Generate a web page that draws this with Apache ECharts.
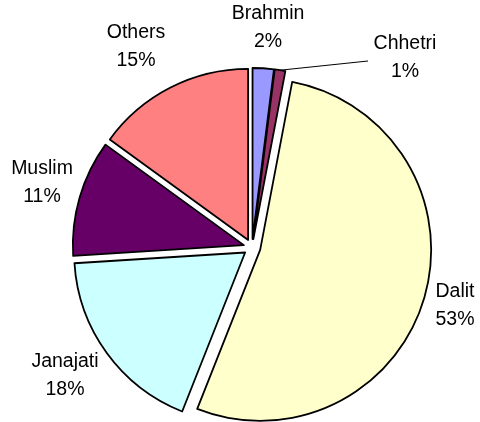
<!DOCTYPE html>
<html>
<head>
<meta charset="utf-8">
<script src="https://cdn.jsdelivr.net/npm/echarts@6/dist/echarts.min.js"></script>
<style>
  html, body { margin: 0; padding: 0; background: #fff; }
  #chart { width: 480px; height: 422px; }
</style>
</head>
<body>
<div id="chart"></div>
<script>
// Caste / ethnic groups and their shares (%)
const groups = ['Brahmin', 'Chhetri', 'Dalit', 'Janajati', 'Muslim', 'Others'];
const shares = [2, 1, 53, 18, 11, 15];
const sliceColors = ['#9999FF', '#993366', '#FFFFCC', '#CCFFFF', '#660066', '#FF8080'];

// Centre of each two-line label
const labelAnchors = {
  Brahmin: [268, 28],
  Chhetri: [405, 58],
  Dalit: [455, 306],
  Janajati: [65, 376],
  Muslim: [42, 183],
  Others: [136, 47]
};
// Outer end of the leader line for the thin Chhetri slice
const chhetriLineEnd = [368, 61];

const EXPLODE = 8.5;
const FONT = '19.5px "Liberation Sans", Arial, sans-serif';

const chart = echarts.init(document.getElementById('chart'), null, { renderer: 'canvas' });
const border = { borderColor: '#000', borderWidth: 1.8 };

chart.setOption({
  animation: false,
  series: [{
    type: 'pie',
    center: [252, 247.5],
    radius: 171,
    startAngle: 90,
    clockwise: true,
    selectedMode: 'multiple',
    selectedOffset: EXPLODE,
    avoidLabelOverlap: false,
    emphasis: { disabled: true },
    itemStyle: border,
    select: { itemStyle: border },
    label: { show: false },
    labelLine: { show: false },
    data: groups.map((g, i) => ({
      name: g,
      value: shares[i],
      selected: true,
      itemStyle: { color: sliceColors[i] }
    }))
  }]
});

// Labels and the Chhetri leader line, placed after the pie has been laid out
const pieData = chart.getModel().getSeriesByIndex(0).getData();
const graphics = groups.map((g, i) => {
  const a = labelAnchors[g];
  return {
    type: 'text',
    silent: true,
    style: {
      text: g + '\n' + shares[i] + '%',
      x: a[0],
      y: a[1],
      align: 'center',
      verticalAlign: 'middle',
      textAlign: 'center',
      textVerticalAlign: 'middle',
      font: FONT,
      lineHeight: 28,
      fill: '#000'
    }
  };
});

const idx = groups.indexOf('Chhetri');
const lay = pieData.getItemLayout(idx);
const mid = (lay.startAngle + lay.endAngle) / 2;
const sx = lay.cx + (lay.r + EXPLODE) * Math.cos(mid);
const sy = lay.cy + (lay.r + EXPLODE) * Math.sin(mid);
graphics.push({
  type: 'line',
  silent: true,
  shape: { x1: sx, y1: sy, x2: chhetriLineEnd[0], y2: chhetriLineEnd[1] },
  style: { stroke: '#000', lineWidth: 1 }
});

chart.setOption({ graphic: graphics });
</script>
</body>
</html>
